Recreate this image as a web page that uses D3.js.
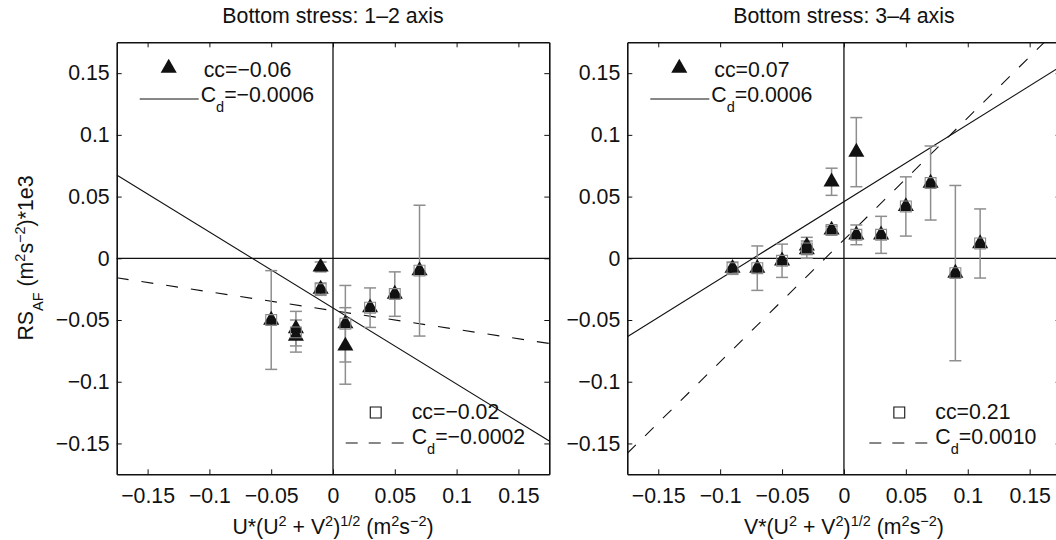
<!DOCTYPE html>
<html>
<head>
<meta charset="utf-8">
<script src="https://cdn.jsdelivr.net/npm/d3@7"></script>
<style>
body { margin: 0; background: #fff; }
text { font-family: "Liberation Sans", Arial, sans-serif; fill: #111; }
</style>
</head>
<body>
<svg id="chart" width="1056" height="540"></svg>
<script>
// axis ticks (same on both panels)
const xTicks = [-0.15, -0.1, -0.05, 0, 0.05, 0.1, 0.15];
const xTickLabels = ["\u22120.15", "\u22120.1", "\u22120.05", "0", "0.05", "0.1", "0.15"];
const yTicks = [-0.15, -0.1, -0.05, 0, 0.05, 0.1, 0.15];
const yTickLabels = ["\u22120.15", "\u22120.1", "\u22120.05", "0", "0.05", "0.1", "0.15"];

// 1-2 axis panel
const triX12 = [-0.05, -0.03, -0.03, -0.01, -0.01, 0.01, 0.01, 0.03, 0.05, 0.07];
const triY12 = [-0.050, -0.057, -0.063, -0.007, -0.025, -0.053, -0.071, -0.040, -0.029, -0.010];
const triErr12 = [0.040, 0.014, 0.013, 0.004, 0.005, 0.031, 0.031, 0.016, 0.018, 0.053];
const sqX12 = [-0.05, -0.03, -0.01, 0.01, 0.03, 0.05, 0.07];
const sqY12 = [-0.050, -0.060, -0.025, -0.053, -0.040, -0.029, -0.010];
const fitX = [-0.175, 0.175];
const solidY12 = [0.0675, -0.148];
const dashY12 = [-0.0158, -0.069];

// 3-4 axis panel
const triX34 = [-0.09, -0.07, -0.05, -0.03, -0.03, -0.01, -0.01, 0.01, 0.01, 0.03, 0.05, 0.07, 0.09, 0.11];
const triY34 = [-0.008, -0.008, -0.002, 0.010, 0.007, 0.062, 0.023, 0.086, 0.019, 0.019, 0.042, 0.061, -0.012, 0.012];
const triErr34 = [0.005, 0.018, 0.0135, 0.007, 0.007, 0.011, 0.003, 0.028, 0.008, 0.015, 0.024, 0.030, 0.071, 0.028];
const sqX34 = [-0.09, -0.07, -0.05, -0.03, -0.01, 0.01, 0.03, 0.05, 0.07, 0.09, 0.11];
const sqY34 = [-0.008, -0.008, -0.002, 0.008, 0.023, 0.019, 0.019, 0.042, 0.061, -0.012, 0.012];
const solidY34 = [-0.0636, 0.1554];
const dashY34 = [-0.158, 0.188];

const legendCc = [["cc=\u22120.06", "cc=\u22120.02"], ["cc=0.07", "cc=0.21"]];
const legendCd = [["=\u22120.0006", "=\u22120.0002"], ["=0.0006", "=0.0010"]];

const svg = d3.select("#chart");
const FS = 21.3;
const yTop = 42.3, yBot = 474.3;

const panels = [
  { x0: 116.7, x1: 549.3, title: "Bottom stress: 1\u20132 axis",
    xlab: [["U*(U"], ["2", "sup"], [" + V"], ["2", "sup"], [")"], ["1/2", "sup"], [" (m"], ["2", "sup"], ["s"], ["\u22122", "sup"], [")"]],
    triX: triX12, triY: triY12, triErr: triErr12, sqX: sqX12, sqY: sqY12,
    solid: solidY12, dash: dashY12, cc: legendCc[0], cd: legendCd[0], lowLeg: 229 },
  { x0: 627.3, x1: 1060.6, title: "Bottom stress: 3\u20134 axis",
    xlab: [["V*(U"], ["2", "sup"], [" + V"], ["2", "sup"], [")"], ["1/2", "sup"], [" (m"], ["2", "sup"], ["s"], ["\u22122", "sup"], [")"]],
    triX: triX34, triY: triY34, triErr: triErr34, sqX: sqX34, sqY: sqY34,
    solid: solidY34, dash: dashY34, cc: legendCc[1], cd: legendCd[1], lowLeg: 242 }
];

// writes text parts with super/subscripts as tspans
function rich(sel, parts) {
  let shift = 0;
  parts.forEach(p => {
    const want = p[1] === "sup" ? -8 : p[1] === "sub" ? 10 : 0;
    sel.append("tspan")
      .attr("dy", want - shift)
      .style("font-size", p[1] ? "14.5px" : null)
      .text(p[0]);
    shift = want;
  });
}

const tri = d3.symbol().type(d3.symbolTriangle).size(112);
const sq = d3.symbol().type(d3.symbolSquare).size(118);

panels.forEach((p, i) => {
  const x = d3.scaleLinear().domain([-0.175, 0.175]).range([p.x0, p.x1]);
  const y = d3.scaleLinear().domain([-0.175, 0.175]).range([yBot, yTop]);
  const g = svg.append("g").style("font-size", FS + "px");

  g.append("clipPath").attr("id", "clip" + i)
    .append("rect").attr("x", p.x0).attr("y", yTop)
    .attr("width", p.x1 - p.x0).attr("height", yBot - yTop);

  // zero lines
  g.append("line").attr("x1", x(0)).attr("x2", x(0)).attr("y1", yTop).attr("y2", yBot)
    .attr("stroke", "#111").attr("stroke-width", 1.3);
  g.append("line").attr("x1", p.x0).attr("x2", p.x1).attr("y1", y(0)).attr("y2", y(0))
    .attr("stroke", "#111").attr("stroke-width", 1.3);

  // fit lines
  const fits = g.append("g").attr("clip-path", `url(#clip${i})`);
  const line = d3.line().x(d => x(d[0])).y(d => y(d[1]));
  fits.append("path").datum(d3.zip(fitX, p.solid)).attr("d", line)
    .attr("fill", "none").attr("stroke", "#111").attr("stroke-width", 1.1);
  fits.append("path").datum(d3.zip(fitX, p.dash)).attr("d", line)
    .attr("fill", "none").attr("stroke", "#111").attr("stroke-width", 1.1)
    .attr("stroke-dasharray", "12,13");

  // error bars
  const pts = d3.zip(p.triX, p.triY, p.triErr);
  const eb = g.append("g").attr("stroke", "#8e8e8e").attr("stroke-width", 1.5);
  pts.forEach(d => {
    eb.append("line").attr("x1", x(d[0])).attr("x2", x(d[0]))
      .attr("y1", y(d[1] - d[2])).attr("y2", y(d[1] + d[2]));
    [d[1] - d[2], d[1] + d[2]].forEach(v => {
      eb.append("line").attr("x1", x(d[0]) - 6).attr("x2", x(d[0]) + 6)
        .attr("y1", y(v)).attr("y2", y(v));
    });
  });

  // triangles then squares
  g.selectAll(".tri").data(pts).join("path").attr("class", "tri")
    .attr("d", tri).attr("transform", d => `translate(${x(d[0])},${y(d[1])})`)
    .attr("fill", "#111");
  g.selectAll(".sq").data(d3.zip(p.sqX, p.sqY)).join("path").attr("class", "sq")
    .attr("d", sq).attr("transform", d => `translate(${x(d[0])},${y(d[1])})`)
    .attr("fill", "none").attr("stroke", "#8a8a8a").attr("stroke-width", 1.1);

  // axes, ticks pointing inward on all sides
  const fmtX = d => xTickLabels[xTicks.indexOf(d)];
  const fmtY = d => yTickLabels[yTicks.indexOf(d)];
  const ax = [
    g.append("g").attr("transform", `translate(0,${yBot})`)
      .call(d3.axisBottom(x).tickValues(xTicks).tickFormat(fmtX).tickSize(-5).tickSizeOuter(0).tickPadding(13.5)),
    g.append("g").attr("transform", `translate(0,${yTop})`)
      .call(d3.axisTop(x).tickValues(xTicks).tickFormat("").tickSize(-5).tickSizeOuter(0)),
    g.append("g").attr("transform", `translate(${p.x0},0)`)
      .call(d3.axisLeft(y).tickValues(yTicks).tickFormat(fmtY).tickSize(-5).tickSizeOuter(0).tickPadding(7)),
    g.append("g").attr("transform", `translate(${p.x1},0)`)
      .call(d3.axisRight(y).tickValues(yTicks).tickFormat("").tickSize(-5).tickSizeOuter(0))
  ];
  ax.forEach(a => {
    a.attr("font-size", null).attr("font-family", null);
    a.select(".domain").attr("stroke", "#111").attr("stroke-width", 1.6);
    a.selectAll(".tick line").attr("stroke", "#111").attr("stroke-width", 1);
    a.selectAll("text").attr("fill", "#111");
  });

  // title and x label
  g.append("text").attr("x", x(0)).attr("y", 23).attr("text-anchor", "middle").text(p.title);
  rich(g.append("text").attr("x", x(0)).attr("y", 534).attr("text-anchor", "middle"), p.xlab);

  // upper legend: triangles and solid fit
  const lx = p.x0;
  g.append("path").attr("d", tri).attr("transform", `translate(${lx + 52},${68})`).attr("fill", "#111");
  g.append("text").attr("x", lx + 87).attr("y", 77).text(p.cc[0]);
  g.append("line").attr("x1", lx + 23).attr("x2", lx + 82).attr("y1", 99).attr("y2", 99)
    .attr("stroke", "#111").attr("stroke-width", 1.1);
  rich(g.append("text").attr("x", lx + 84).attr("y", 101.5), [["C"], ["d", "sub"], [p.cd[0]]]);

  // lower legend: squares and dashed fit
  const bx = p.x0 + p.lowLeg;
  g.append("path").attr("d", sq).attr("transform", `translate(${bx + 30},${412.5})`)
    .attr("fill", "none").attr("stroke", "#111").attr("stroke-width", 1.1);
  g.append("text").attr("x", bx + 66).attr("y", 419).text(p.cc[1]);
  g.append("line").attr("x1", bx).attr("x2", bx + 59).attr("y1", 443).attr("y2", 443)
    .attr("stroke", "#111").attr("stroke-width", 1.1).attr("stroke-dasharray", "12,11");
  rich(g.append("text").attr("x", bx + 66).attr("y", 444), [["C"], ["d", "sub"], [p.cd[1]]]);
});

// y label, left panel only
rich(svg.append("text").style("font-size", FS + "px").attr("text-anchor", "middle")
  .attr("transform", "translate(33,258) rotate(-90)"),
  [["RS"], ["AF", "sub"], [" (m"], ["2", "sup"], ["s"], ["\u22122", "sup"], [")*1e3"]]);
</script>
</body>
</html>
